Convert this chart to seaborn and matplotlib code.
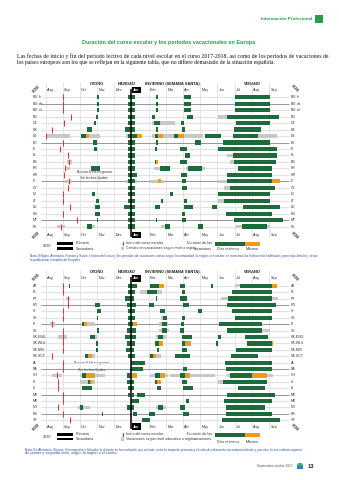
import matplotlib
matplotlib.use("Agg")
import matplotlib.pyplot as plt
from matplotlib.patches import Rectangle, Wedge
import numpy as np
import pandas as pd
import seaborn as sns

# ---------------------------------------------------------------------------
# Data: all positions are in months counted from 1 August 2017
# ---------------------------------------------------------------------------
months = ["Aug", "Sep", "Oct", "Nov", "Dec", "Jan", "Feb", "Mar",
          "Apr", "May", "Jun", "Jul", "Aug", "Sep"]
seasons = ["OTOÑO", "NAVIDAD", "INVIERNO (SEMANA SANTA)", "VERANO"]

# --- first table -----------------------------------------------------------
countries_a = ["BE fr", "BE de", "BE nl", "BG", "CZ", "DK", "DE", "EE", "IE",
               "EL", "ES", "FR", "HR", "IT", "CY", "LV", "LT", "LU", "HU",
               "MT", "NL"]
start_a = [1.0, 1.0, 1.0, 1.47, 1.09, 0.4, 0.05, 1.0, 0.85, 1.33, 1.35,
           1.15, 1.08, 1.35, 1.33, 1.0, 1.0, 1.42, 1.0, 1.81, 0.88]
start_range_a = [("DE", 0.01, 1.42), ("ES", 1.23, 1.52), ("FR", 1.12, 1.45),
                 ("IT", 1.13, 1.52), ("NL", 0.65, 1.13)]
green_a = [
    ("BE fr", 2.98, 3.13), ("BE fr", 4.78, 5.2), ("BE fr", 6.4, 6.56), ("BE fr", 8.05, 8.44), ("BE fr", 11.02, 13.05),
    ("BE de", 2.98, 3.13), ("BE de", 4.78, 5.2), ("BE de", 6.4, 6.56), ("BE de", 8.05, 8.44), ("BE de", 11.02, 13.05),
    ("BE nl", 2.98, 3.13), ("BE nl", 4.78, 5.2), ("BE nl", 6.4, 6.56), ("BE nl", 8.05, 8.44), ("BE nl", 11.02, 13.05),
    ("BG", 2.92, 3.07), ("BG", 4.78, 5.2), ("BG", 6.17, 6.37), ("BG", 8.25, 8.6), ("BG", 10.53, 13.58),
    ("CZ", 2.84, 2.94), ("CZ", 4.78, 5.2), ("CZ", 6.33, 6.66), ("CZ", 7.86, 8.07), ("CZ", 11.08, 13.05),
    ("DK", 2.43, 2.72), ("DK", 4.62, 5.2), ("DK", 6.4, 6.56), ("DK", 7.92, 8.11), ("DK", 10.96, 12.51),
    ("DE", 2.06, 2.34), ("DE", 4.81, 5.3), ("DE", 6.37, 6.56), ("DE", 7.5, 7.68), ("DE", 9.27, 10.19), ("DE", 10.92, 12.37),
    ("EE", 2.78, 3.01), ("EE", 4.78, 5.2), ("EE", 6.4, 6.56), ("EE", 8.69, 9.02), ("EE", 10.34, 13.05),
    ("IE", 2.84, 2.98), ("IE", 4.78, 5.2), ("IE", 6.37, 6.5), ("IE", 7.82, 8.21), ("IE", 10.01, 13.44),
    ("EL", 4.78, 5.2), ("EL", 8.11, 8.4), ("EL", 10.92, 13.44),
    ("ES", 4.78, 5.2), ("ES", 6.38, 6.45), ("ES", 7.82, 8.21), ("ES", 10.96, 13.4),
    ("FR", 2.65, 3.17), ("FR", 4.78, 5.2), ("FR", 6.66, 7.24), ("FR", 8.3, 9.08), ("FR", 11.21, 13.15),
    ("HR", 4.81, 5.3), ("HR", 7.86, 8.21), ("HR", 10.57, 13.15),
    ("IT", 4.78, 5.2), ("IT", 7.92, 8.15), ("IT", 10.53, 13.15),
    ("CY", 4.78, 5.2), ("CY", 7.92, 8.25), ("CY", 10.73, 13.34),
    ("LV", 2.69, 2.88), ("LV", 4.78, 5.2), ("LV", 7.24, 7.43), ("LV", 10.05, 13.05),
    ("LT", 2.92, 3.11), ("LT", 4.78, 5.2), ("LT", 6.7, 6.85), ("LT", 8.05, 8.21), ("LT", 10.4, 13.05),
    ("LU", 2.88, 3.17), ("LU", 4.58, 5.2), ("LU", 6.37, 6.66), ("LU", 8.05, 8.6), ("LU", 9.66, 9.95), ("LU", 11.5, 13.63),
    ("HU", 2.88, 3.17), ("HU", 4.78, 5.2), ("HU", 7.92, 8.11), ("HU", 10.49, 13.15),
    ("MT", 2.98, 3.07), ("MT", 4.78, 5.2), ("MT", 6.4, 6.5), ("MT", 7.92, 8.15), ("MT", 10.96, 13.83),
    ("NL", 2.43, 2.72), ("NL", 4.78, 5.2), ("NL", 6.95, 7.24), ("NL", 8.89, 9.17), ("NL", 11.4, 12.86),
]
orange_a = [("DE", 2.34, 2.55), ("DE", 5.3, 5.59), ("DE", 6.56, 6.85), ("DE", 7.68, 8.05),
            ("ES", 6.45, 6.52), ("IT", 6.55, 6.7), ("IT", 13.15, 13.63)]
gray_a = [("BG", 10.05, 10.53), ("CZ", 6.2, 7.53),
          ("DE", 2.55, 3.17), ("DE", 4.7, 4.81), ("DE", 6.2, 7.45), ("DE", 8.05, 9.17), ("DE", 12.37, 13.44),
          ("EL", 10.53, 10.92), ("ES", 10.7, 10.96),
          ("FR", 6.3, 6.66), ("FR", 8.15, 8.3), ("FR", 9.08, 9.3),
          ("IT", 4.6, 4.78), ("IT", 5.2, 5.3), ("IT", 6.1, 6.9), ("IT", 10.05, 10.53),
          ("CY", 10.35, 10.73), ("LT", 10.05, 10.4),
          ("NL", 2.72, 2.9), ("NL", 6.7, 6.95), ("NL", 11.1, 11.4), ("NL", 12.86, 13.05)]
dark_rows_a = ["BE de", "EE", "IT", "MT"]

# --- second table ----------------------------------------------------------
countries_b = ["AT", "PL", "PT", "RO", "SI", "SK", "FI", "SE", "UK-ENG",
               "UK-WLS", "UK-NIR", "UK-SCT", "AL", "BA", "CH", "IS", "LI",
               "ME", "MK", "NO", "RS", "TR"]
start_b = [1.04, 1.04, 1.33, 1.33, 1.0, 1.02, 0.36, 1.0, 1.0, 1.0, 1.0,
           0.36, 1.0, 1.0, 0.65, 0.75, 0.72, 1.0, 1.0, 0.72, 1.0, 1.45]
start_range_b = [("PT", 1.2, 1.4), ("FI", 0.26, 0.55), ("UK-ENG", 0.75, 1.23),
                 ("CH", 0.36, 0.95)]
green_b = [
    ("AT", 1.35, 1.45), ("AT", 4.82, 5.3), ("AT", 6.05, 6.6), ("AT", 7.82, 8.11), ("AT", 9.6, 9.72), ("AT", 11.31, 13.15),
    ("PL", 4.82, 5.2), ("PL", 5.9, 6.5), ("PL", 7.92, 8.11), ("PL", 10.83, 13.15),
    ("PT", 4.62, 5.14), ("PT", 6.4, 6.5), ("PT", 7.82, 8.21), ("PT", 10.63, 13.15),
    ("RO", 2.85, 3.17), ("RO", 4.72, 5.27), ("RO", 6.0, 6.3), ("RO", 7.98, 8.36), ("RO", 10.57, 13.4),
    ("SI", 2.98, 3.2), ("SI", 4.82, 5.2), ("SI", 6.66, 6.95), ("SI", 8.89, 9.12), ("SI", 10.83, 13.15),
    ("SK", 2.98, 3.07), ("SK", 4.78, 5.2), ("SK", 6.85, 7.05), ("SK", 7.92, 8.11), ("SK", 11.02, 13.15),
    ("FI", 2.1, 2.26), ("FI", 4.82, 5.1), ("FI", 6.76, 7.05), ("FI", 7.86, 8.05), ("FI", 10.1, 12.57),
    ("SE", 3.0, 3.1), ("SE", 4.72, 5.27), ("SE", 6.8, 7.05), ("SE", 7.82, 8.05), ("SE", 10.57, 12.57),
    ("UK-ENG", 2.59, 2.88), ("UK-ENG", 4.62, 5.27), ("UK-ENG", 6.56, 6.85), ("UK-ENG", 7.92, 8.5), ("UK-ENG", 10.05, 10.19), ("UK-ENG", 11.6, 12.95),
    ("UK-WLS", 2.95, 3.07), ("UK-WLS", 4.72, 5.2), ("UK-WLS", 6.37, 6.62), ("UK-WLS", 7.92, 8.11), ("UK-WLS", 9.91, 10.05), ("UK-WLS", 11.73, 13.15),
    ("UK-NIR", 2.95, 3.05), ("UK-NIR", 4.68, 5.14), ("UK-NIR", 6.5, 6.6), ("UK-NIR", 7.95, 8.21), ("UK-NIR", 11.08, 13.15),
    ("UK-SCT", 2.3, 2.45), ("UK-SCT", 4.78, 5.2), ("UK-SCT", 6.1, 6.25), ("UK-SCT", 7.53, 8.4), ("UK-SCT", 10.79, 12.37),
    ("AL", 5.0, 5.79), ("AL", 10.44, 13.15),
    ("BA", 5.0, 5.69), ("BA", 8.01, 8.25), ("BA", 10.49, 13.15),
    ("CH", 2.1, 2.35), ("CH", 4.72, 4.91), ("CH", 6.37, 6.66), ("CH", 7.82, 8.11), ("CH", 10.73, 11.99),
    ("IS", 2.46, 2.59), ("IS", 4.72, 5.14), ("IS", 6.37, 6.5), ("IS", 7.92, 8.21), ("IS", 10.3, 12.86),
    ("LI", 2.14, 2.69), ("LI", 4.78, 5.14), ("LI", 6.47, 6.69), ("LI", 7.98, 8.56), ("LI", 11.21, 12.76),
    ("ME", 4.82, 4.91), ("ME", 5.05, 5.14), ("ME", 5.3, 5.79), ("ME", 10.53, 13.34),
    ("MK", 4.95, 5.45), ("MK", 8.17, 8.36), ("MK", 10.38, 13.15),
    ("NO", 2.0, 2.2), ("NO", 4.72, 5.14), ("NO", 6.56, 6.85), ("NO", 7.82, 8.11), ("NO", 10.49, 12.76),
    ("RS", 3.3, 3.36), ("RS", 5.1, 5.3), ("RS", 6.04, 6.37), ("RS", 8.01, 8.36), ("RS", 10.49, 13.15),
    ("TR", 5.59, 6.07), ("TR", 10.24, 13.63),
]
orange_b = [("AT", 6.6, 6.9), ("AT", 13.15, 13.44), ("FI", 2.26, 2.4), ("FI", 5.1, 5.3),
            ("UK-WLS", 6.62, 6.81), ("UK-WLS", 8.11, 8.44), ("UK-WLS", 13.15, 13.2),
            ("UK-SCT", 2.45, 2.69), ("UK-SCT", 6.25, 6.4),
            ("CH", 2.35, 2.88), ("CH", 4.91, 5.3), ("CH", 6.66, 6.95), ("CH", 8.11, 8.4), ("CH", 11.99, 12.86),
            ("IS", 2.59, 2.7), ("IS", 6.5, 6.7)]
gray_b = [("AT", 11.0, 11.31), ("PL", 5.5, 6.8), ("PT", 10.2, 10.63), ("PT", 13.15, 13.5),
          ("SK", 6.7, 6.85), ("FI", 2.4, 2.88), ("FI", 6.6, 7.15),
          ("SE", 6.6, 7.2), ("SE", 12.57, 13.05), ("UK-ENG", 2.88, 2.98), ("UK-ENG", 6.45, 7.0),
          ("UK-SCT", 2.69, 2.88), ("UK-SCT", 6.0, 6.7),
          ("CH", 2.0, 3.46), ("CH", 6.1, 7.1), ("CH", 7.24, 9.85), ("CH", 10.55, 10.73), ("CH", 12.86, 13.2),
          ("IS", 2.0, 2.88), ("IS", 10.05, 10.3), ("NO", 1.9, 2.59), ("NO", 6.4, 7.0)]
dark_rows_b = ["RO", "FI", "BA", "ME", "RS"]

# ---------------------------------------------------------------------------
# Style
# ---------------------------------------------------------------------------
sns.set_theme(style="white")
plt.rcParams["font.family"] = ["Liberation Sans", "DejaVu Sans"]

GREEN = "#1e6a3a"
ORANGE = "#f39a1c"
GRAY = "#c8c8c8"
RED = "#e2343d"
INK = "#333333"
BRAND = "#22a04b"
NOTE = "#2d4f9e"
LIGHT_LINE = "#e2e2e2"
DARK_LINE = "#76769a"

W, H = 339, 480
fig = plt.figure(figsize=(W / 100, H / 100), dpi=100)
fig.patch.set_facecolor("white")

# page layer in pixel units
page = fig.add_axes([0, 0, 1, 1])
page.set_xlim(0, W)
page.set_ylim(H, 0)
page.axis("off")

renderer = fig.canvas.get_renderer()


def fit(t, width):
    """Scale a text so that it spans the given width in pixels."""
    w = t.get_window_extent(renderer).width
    t.set_fontsize(t.get_fontsize() * width / w)
    return t


X0, MPX = 45.5, 17.2          # pixel of 1 Aug 2017 and pixels per month
XMIN, XMAX = -0.3, 14.2


def draw_chart(countries, starts, start_ranges, green, orange, gray, dark_rows,
               row0, step, head_y, top_y, bot_y, note_xy):
    n = len(countries)

    def r(ypx):
        return (ypx - row0) / step

    top, bot = r(head_y - 4), r(bot_y + 4)
    left_px = X0 + XMIN * MPX
    ax = fig.add_axes([left_px / W, 1 - (row0 + bot * step) / H,
                       (XMAX - XMIN) * MPX / W, (bot - top) * step / H])
    rows = np.arange(n)
    index = {c: i for i, c in enumerate(countries)}

    # month grid and the turn of the year
    ax.vlines(np.arange(0, 14), r(head_y - 2), r(bot_y + 2.5),
              color="#d2d2d2", lw=0.4, zorder=0)
    ax.vlines(5, r(top_y - 1.5), r(bot_y + 2), color="black", lw=1.1, zorder=6)

    # one guide line per country row
    colors = [DARK_LINE if c in dark_rows else LIGHT_LINE for c in countries]
    widths = [0.55 if c in dark_rows else 0.9 for c in countries]
    ax.hlines(rows, -0.25, 14.15, colors=colors, lw=widths, zorder=1)

    # holiday periods
    layers = ((gray, GRAY, 0.56, 2), (start_ranges, GRAY, 0.56, 2),
              (green, GREEN, 0.66, 3), (orange, ORANGE, 0.66, 4))
    for items, color, h, z in layers:
        df = pd.DataFrame(items, columns=["country", "start", "end"])
        y = df["country"].map(index)
        ax.barh(y, df["end"] - df["start"], left=df["start"], height=h,
                color=color, lw=0, zorder=z)

    # start of the school year
    sns.scatterplot(x=starts, y=rows, marker="|", s=16, color=RED,
                    linewidth=0.75, ax=ax, legend=False, zorder=5)

    ax.set_xlim(XMIN, XMAX)
    ax.set_ylim(bot, top)
    ax.axis("off")

    # month labels above and below
    for k, name in enumerate(months):
        for ypx in (top_y, bot_y):
            if k == 5:
                ax.text(k + 0.08, r(ypx), name, ha="left", va="center",
                        fontsize=2.7, color="white", fontweight="bold", zorder=7,
                        bbox=dict(boxstyle="square,pad=0.35", fc="black", ec="none"))
            else:
                ax.text(k + 0.08, r(ypx), name, ha="left", va="center",
                        fontsize=2.7, color=INK)

    # country labels on both sides
    for i, c in enumerate(countries):
        ax.text(-0.73, i, c, ha="left", va="center", fontsize=2.5, color=INK)
        ax.text(14.25, i, c, ha="left", va="center", fontsize=2.5, color=INK)

    # season headers
    for name, xpx in zip(seasons, (97, 127, 172, 252)):
        page.text(xpx, head_y, name, ha="center", va="center", fontsize=2.9,
                  fontweight="bold", color="#222222")

    # corner level tags
    for xpx, ypx, rot in ((36, top_y - 1, 45), (295, top_y - 1, -45),
                          (36, bot_y + 0.5, 45), (295, bot_y + 0.5, -45)):
        page.text(xpx, ypx, "ISCED", ha="center", va="center", fontsize=2.2,
                  rotation=rot, color="#222222", fontweight="bold")

    # free text inside the table
    nx, ny = note_xy
    page.text(nx, ny, "Bosnia & Herzegovina", ha="center", va="center",
              fontsize=2.5, color=INK, zorder=8)
    page.text(nx, ny + 6.3, "Sin fechas fijadas", ha="center", va="center",
              fontsize=2.5, color=INK, zorder=8)
    return ax


def draw_key(y1, y2, y3, gray_text):
    page.text(47.5, (y1 + y2) / 2, "ISCED", ha="center", va="center",
              fontsize=2.1, color=INK)
    page.add_patch(Rectangle((57, y1 - 1.4), 16, 2.8, color="black", lw=0))
    page.add_patch(Rectangle((57, y2 - 1.4), 16, 2.8, color="black", lw=0))
    page.text(75.5, y1, "Primaria", ha="left", va="center", fontsize=2.6, color=INK)
    page.text(75.5, y2, "Secundaria", ha="left", va="center", fontsize=2.6, color=INK)
    page.plot([122.7, 122.7], [y1 - 1.8, y1 + 1.8], color=RED, lw=0.9)
    page.text(126, y1, "Inicio del curso escolar", ha="left", va="center",
              fontsize=2.6, color=INK)
    page.add_patch(Rectangle((120.8, y2 - 1.7), 3.4, 3.4, color=GRAY, lw=0))
    page.text(126, y2, gray_text, ha="left", va="center", fontsize=2.6, color=INK)
    page.text(212.5, y1, "Duración de las", ha="right", va="center",
              fontsize=2.6, color=INK)
    page.text(212.5, y2, "vacaciones", ha="right", va="center",
              fontsize=2.6, color=INK)
    page.add_patch(Rectangle((215, y1 - 1.6), 30, 3.8, color=GREEN, lw=0))
    page.add_patch(Rectangle((245, y1 - 1.6), 15, 3.8, color=ORANGE, lw=0))
    page.text(217, y3, "Días mínimos", ha="left", va="center", fontsize=2.6, color=INK)
    page.text(246, y3, "Máximo", ha="left", va="center", fontsize=2.6, color=INK)


# ---------------------------------------------------------------------------
# Page header
# ---------------------------------------------------------------------------
t = page.text(312, 19.3, "Información Profesional", ha="right", va="center",
              fontsize=3, color=BRAND, fontweight="bold")
fit(t, 50)
page.add_patch(Rectangle((315, 15.3), 8, 8, color=BRAND, lw=0))

t = page.text(169, 42.3, "Duración del curso escolar y los periodos vacacionales en Europa",
              ha="center", va="center", fontsize=4, color=BRAND, fontweight="bold")
fit(t, 172)

para = ["Las fechas de inicio y fin del periodo lectivo de cada nivel escolar en el curso "
        "2017-2018, así como de los periodos de vacaciones de",
        "los países europeos son los que se reflejan en la siguiente tabla, que no difiere "
        "demasiado de la situación española."]
for line, ypx, wpx in zip(para, (56.5, 62.2), (305, 260)):
    t = page.text(17, ypx, line, ha="left", va="center", fontsize=4,
                  color="#111111", family=["Liberation Serif", "DejaVu Serif"])
    fit(t, wpx)

# ---------------------------------------------------------------------------
# The two tables
# ---------------------------------------------------------------------------
draw_chart(countries_a, start_a, start_range_a, green_a, orange_a, gray_a,
           dark_rows_a, row0=97.3, step=6.465, head_y=84, top_y=90, bot_y=235,
           note_xy=(94, 171.7))
draw_key(243.3, 248.5, 248.5, "Cambio en vacaciones según nivel o región")
notes_a = ["Nota: Bélgica, Alemania, Francia y Suiza: el inicio del curso y los periodos de vacaciones "
           "varían según la comunidad, la región o el cantón; se muestran las fechas más habituales; "
           "para más detalles, véase",
           "la publicación completa de Eurydice."]
for line, ypx, wpx in zip(notes_a, (256, 259.6), (278, 50)):
    t = page.text(30, ypx, line, ha="left", va="center", fontsize=2, color=NOTE)
    fit(t, wpx)

draw_chart(countries_b, start_b, start_range_b, green_b, orange_b, gray_b,
           dark_rows_b, row0=285.7, step=6.41, head_y=271.7, top_y=278.3,
           bot_y=426.7, note_xy=(91.5, 363.3))
draw_key(434.3, 439, 441.8, "Variaciones según nivel educativo o región")
notes_b = ["Nota: En Alemania, Bosnia, Herzegovina e Islandia: la división se ha realizado, por un lado, "
           "entre la etapa de primaria y el ciclo de educación secundaria inferior y, por otro, "
           "la secundaria superior",
           "de primer y segundo ciclo, según la región o el centro."]
for line, ypx, wpx in zip(notes_b, (449.5, 453.3), (275, 90)):
    t = page.text(25, ypx, line, ha="left", va="center", fontsize=2, color=NOTE)
    fit(t, wpx)

# ---------------------------------------------------------------------------
# Footer
# ---------------------------------------------------------------------------
t = page.text(293, 466.5, "Septiembre-octubre 2017", ha="right", va="center",
              fontsize=2.6, color="#555555")
fit(t, 36)
page.add_patch(Wedge((300, 466), 3.2, 180, 360, color="#3bb36a", lw=0))
page.add_patch(Rectangle((296.8, 466), 6.4, 3.2, color="#2f7fc1", lw=0))
page.text(308, 466.5, "13", ha="left", va="center", fontsize=4.2,
          color="#222222", fontweight="bold")

fig.savefig("out.png", dpi=100, facecolor="white")
